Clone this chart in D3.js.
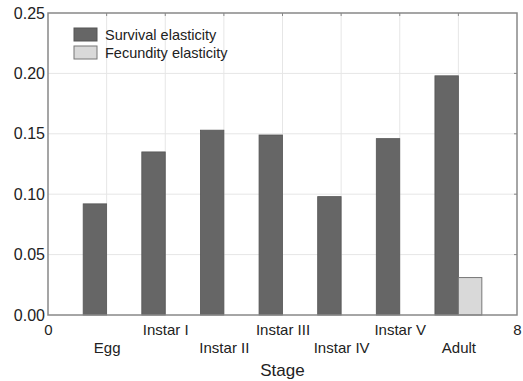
<!DOCTYPE html>
<html lang="en">
<head>
    <meta charset="UTF-8">
    <title>Elasticity by stage</title>
    <script src="https://d3js.org/d3.v7.min.js"></script>
    <style>
        body { margin: 0; background: #fff; font-family: "Liberation Sans", Arial, sans-serif; }
        .tick text { font-size: 15px; fill: #222; }
        .grid line { stroke: #e6e6e6; stroke-width: 1px; }
    </style>
</head>
<body>
<div id="chart"></div>
<script>
    const stages = ["Egg", "Instar I", "Instar II", "Instar III", "Instar IV", "Instar V", "Adult"];
    const survival = [0.092, 0.135, 0.153, 0.149, 0.098, 0.146, 0.198];
    const fecundity = [0, 0, 0, 0, 0, 0, 0.031];
    const yTicks = [0, 0.05, 0.10, 0.15, 0.20, 0.25];
    const xTickLabels = ["0"].concat(stages, ["8"]);

    const W = 523, H = 381;
    const margin = { top: 13, right: 6, bottom: 66, left: 48 };

    const svg = d3.select("#chart").append("svg")
        .attr("width", W)
        .attr("height", H);

    const x = d3.scaleLinear().domain([0, 8]).range([margin.left, W - margin.right]);
    const y = d3.scaleLinear().domain([0, 0.25]).range([H - margin.bottom, margin.top]);

    // grid lines
    svg.append("g").attr("class", "grid")
        .selectAll("line.v").data(d3.range(1, 8)).join("line")
        .attr("x1", d => x(d)).attr("x2", d => x(d))
        .attr("y1", y(0)).attr("y2", y(0.25));
    svg.append("g").attr("class", "grid")
        .selectAll("line.h").data(yTicks.slice(1, -1)).join("line")
        .attr("x1", x(0)).attr("x2", x(8))
        .attr("y1", d => y(d)).attr("y2", d => y(d));

    // bars: survival left of the integer position, fecundity right of it
    const bw = 0.4;
    svg.append("g").selectAll("rect").data(survival).join("rect")
        .attr("x", (d, i) => x(i + 1 - bw))
        .attr("y", d => y(d))
        .attr("width", x(bw) - x(0))
        .attr("height", d => y(0) - y(d))
        .attr("fill", "#666")
        .attr("stroke", "#555")
        .attr("stroke-width", 0.8);

    svg.append("g").selectAll("rect").data(fecundity.map((v, i) => ({ v, i })).filter(d => d.v > 0)).join("rect")
        .attr("x", d => x(d.i + 1))
        .attr("y", d => y(d.v))
        .attr("width", x(bw) - x(0))
        .attr("height", d => y(0) - y(d.v))
        .attr("fill", "#d9d9d9")
        .attr("stroke", "#777")
        .attr("stroke-width", 1);

    // axes
    const yAxis = svg.append("g")
        .attr("transform", `translate(${x(0)},0)`)
        .call(d3.axisLeft(y).tickValues(yTicks).tickFormat(d3.format(".2f")).tickSize(0).tickPadding(3));
    yAxis.select(".domain").remove();
    yAxis.selectAll(".tick text").style("font-size", "16px");

    const xAxis = svg.append("g")
        .attr("transform", `translate(0,${y(0)})`)
        .call(d3.axisBottom(x).tickValues(d3.range(0, 9)).tickFormat(d => xTickLabels[d]).tickSize(0));
    xAxis.select(".domain").remove();
    xAxis.selectAll(".tick text")
        .attr("dy", 0)
        .attr("y", d => (d % 2 === 1 ? 38 : 20));

    // inner ticks on top and right
    svg.append("g").selectAll("line").data(d3.range(1, 8)).join("line")
        .attr("x1", d => x(d)).attr("x2", d => x(d))
        .attr("y1", y(0.25)).attr("y2", y(0.25) + 3)
        .attr("stroke", "#888");
    svg.append("g").selectAll("line").data(yTicks.slice(1, -1)).join("line")
        .attr("x1", x(8)).attr("x2", x(8) - 3)
        .attr("y1", d => y(d)).attr("y2", d => y(d))
        .attr("stroke", "#888");

    // frame
    svg.append("rect")
        .attr("x", x(0)).attr("y", y(0.25))
        .attr("width", x(8) - x(0)).attr("height", y(0) - y(0.25))
        .attr("fill", "none")
        .attr("stroke", "#888")
        .attr("stroke-width", 1.5);

    // axis title
    svg.append("text")
        .attr("x", (x(0) + x(8)) / 2)
        .attr("y", 376)
        .attr("text-anchor", "middle")
        .attr("font-size", 17)
        .attr("fill", "#222")
        .text("Stage");

    // legend
    const legend = [
        { label: "Survival elasticity", fill: "#666", stroke: "#555" },
        { label: "Fecundity elasticity", fill: "#d9d9d9", stroke: "#777" }
    ];
    const lg = svg.append("g").attr("transform", "translate(74,28)");
    lg.selectAll("rect").data(legend).join("rect")
        .attr("x", 0).attr("y", (d, i) => i * 18)
        .attr("width", 23).attr("height", 13)
        .attr("fill", d => d.fill).attr("stroke", d => d.stroke);
    lg.selectAll("text").data(legend).join("text")
        .attr("x", 31).attr("y", (d, i) => i * 18 + 12)
        .attr("font-size", 14.5)
        .attr("fill", "#222")
        .text(d => d.label);
</script>
</body>
</html>
